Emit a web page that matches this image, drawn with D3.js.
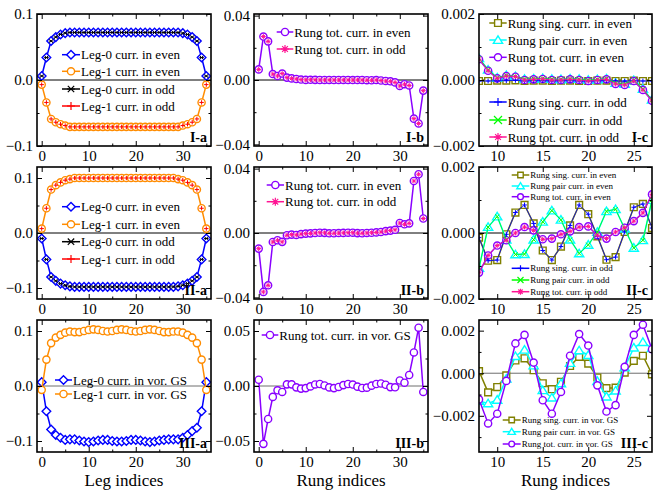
<!DOCTYPE html>
<html><head><meta charset="utf-8">
<script src="https://cdn.jsdelivr.net/npm/d3@7"></script>
<style>body{margin:0;background:#fff}</style>
</head><body><svg id="chart" width="653" height="491"></svg>
<script>
// ---------------- DATA ----------------
const legIndices  = [0,1,2,3,4,5,6,7,8,9,10,11,12,13,14,15,16,17,18,19,20,21,22,23,24,25,26,27,28,29,30,31,32,33,34,35];
const rungIndices = [0,1,2,3,4,5,6,7,8,9,10,11,12,13,14,15,16,17,18,19,20,21,22,23,24,25,26,27,28,29,30,31,32,33,34,35];
const zoomRungs   = [8,9,10,11,12,13,14,15,16,17,18,19,20,21,22,23,24,25,26,27];

// I : even / odd states
const leg0EvenI = [0.006,0.034,0.059,0.065,0.069,0.071,0.072,0.072,0.072,0.072,0.072,0.072,0.072,0.072,0.072,0.072,0.072,0.072,0.072,0.072,0.072,0.072,0.072,0.072,0.072,0.072,0.072,0.072,0.072,0.072,0.071,0.069,0.065,0.059,0.034,0.006];
const leg1EvenI = [-0.007,-0.034,-0.059,-0.064,-0.067,-0.069,-0.071,-0.071,-0.071,-0.071,-0.071,-0.071,-0.071,-0.071,-0.071,-0.071,-0.071,-0.071,-0.071,-0.071,-0.071,-0.071,-0.071,-0.071,-0.071,-0.071,-0.071,-0.071,-0.071,-0.071,-0.069,-0.067,-0.064,-0.059,-0.034,-0.007];
const leg0OddI = [0.006,0.034,0.059,0.065,0.069,0.071,0.072,0.072,0.072,0.072,0.072,0.072,0.072,0.072,0.072,0.072,0.072,0.072,0.072,0.072,0.072,0.072,0.072,0.072,0.072,0.072,0.072,0.072,0.072,0.072,0.071,0.069,0.065,0.059,0.034,0.006];
const leg1OddI = [-0.007,-0.034,-0.059,-0.064,-0.067,-0.069,-0.071,-0.071,-0.071,-0.071,-0.071,-0.071,-0.071,-0.071,-0.071,-0.071,-0.071,-0.071,-0.071,-0.071,-0.071,-0.071,-0.071,-0.071,-0.071,-0.071,-0.071,-0.071,-0.071,-0.071,-0.069,-0.067,-0.064,-0.059,-0.034,-0.007];
const rungTotEvenI = [0.0066,0.0270,0.0240,0.0037,0.0025,0.0040,0.0015,0.0010,0.00063,0.00028,0.00005,0.00012,0.0001,0.0,0.00002,0.00003,0.0,0.0,0.00002,0.0,-0.00003,0.0,0.00002,-0.00012,-0.00015,-0.00003,-0.0003,-0.00063,-0.0008,-0.0015,-0.0037,-0.0026,-0.0034,-0.0240,-0.0270,-0.0066];
const rungTotOddI  = [0.0066,0.0270,0.0240,0.0037,0.0025,0.0040,0.0015,0.0010,0.00063,0.00028,0.00005,0.00012,0.0001,0.0,0.00002,0.00003,0.0,0.0,0.00002,0.0,-0.00003,0.0,0.00002,-0.00012,-0.00015,-0.00003,-0.0003,-0.00063,-0.0008,-0.0015,-0.0037,-0.0026,-0.0034,-0.0240,-0.0270,-0.0066];
const rungSingEvenI = [-0.00003,-0.00003,-0.00002,-0.00002,-0.00001,-0.00003,-0.00002,-0.00002,-0.00003,-0.00002,-0.00002,-0.00003,-0.00003,-0.00002,-0.00002,-0.00003,-0.00003,-0.00002,-0.00003,-0.00003];
const rungPairEvenI = [0.00066,0.00031,0.00007,0.00014,0.00011,0.00003,0.00004,0.00005,0.00003,0.00002,0.00004,0.00003,0.0,0.00002,0.00004,-0.00009,-0.00012,-0.00001,-0.00027,-0.0006];
const rungSingOddI  = [-0.00003,-0.00003,-0.00002,-0.00002,-0.00001,-0.00003,-0.00002,-0.00002,-0.00003,-0.00002,-0.00002,-0.00003,-0.00003,-0.00002,-0.00002,-0.00003,-0.00003,-0.00002,-0.00003,-0.00003];
const rungPairOddI  = [0.00066,0.00031,0.00007,0.00014,0.00011,0.00003,0.00004,0.00005,0.00003,0.00002,0.00004,0.00003,0.0,0.00002,0.00004,-0.00009,-0.00012,-0.00001,-0.00027,-0.0006];

// II : even / odd states
const leg0EvenII = [-0.010,-0.048,-0.080,-0.087,-0.092,-0.095,-0.097,-0.098,-0.098,-0.098,-0.098,-0.098,-0.098,-0.098,-0.098,-0.098,-0.098,-0.098,-0.098,-0.098,-0.098,-0.098,-0.098,-0.098,-0.098,-0.098,-0.098,-0.098,-0.098,-0.097,-0.095,-0.092,-0.087,-0.080,-0.048,-0.010];
const leg1EvenII = [0.008,0.045,0.079,0.087,0.092,0.096,0.098,0.100,0.100,0.100,0.100,0.100,0.100,0.100,0.100,0.100,0.100,0.100,0.100,0.100,0.100,0.100,0.100,0.100,0.100,0.100,0.100,0.100,0.100,0.098,0.096,0.092,0.087,0.079,0.045,0.008];
const leg0OddII = [-0.010,-0.048,-0.080,-0.087,-0.092,-0.095,-0.097,-0.098,-0.098,-0.098,-0.098,-0.098,-0.098,-0.098,-0.098,-0.098,-0.098,-0.098,-0.098,-0.098,-0.098,-0.098,-0.098,-0.098,-0.098,-0.098,-0.098,-0.098,-0.098,-0.097,-0.095,-0.092,-0.087,-0.080,-0.048,-0.010];
const leg1OddII = [0.008,0.045,0.079,0.087,0.092,0.096,0.098,0.100,0.100,0.100,0.100,0.100,0.100,0.100,0.100,0.100,0.100,0.100,0.100,0.100,0.100,0.100,0.100,0.100,0.100,0.100,0.100,0.100,0.100,0.098,0.096,0.092,0.087,0.079,0.045,0.008];
const rungTotEvenII = [-0.0097,-0.0366,-0.0325,-0.0056,-0.0045,-0.0055,-0.0014,-0.0010,-0.0012,-0.00068,-0.00038,-0.00022,0.0,0.00018,0.00008,-0.00019,-0.00017,-0.00004,0.00005,0.00018,0.0002,-0.00007,-0.00017,0.00003,0.00016,0.00036,0.00061,0.00117,0.0015,0.0020,0.0062,0.0054,0.0060,0.0323,0.0365,0.0090];
const rungTotOddII  = [-0.0097,-0.0366,-0.0325,-0.0056,-0.0045,-0.0055,-0.0014,-0.0010,-0.0012,-0.00068,-0.00038,-0.00022,0.0,0.00018,0.00008,-0.00019,-0.00017,-0.00004,0.00005,0.00018,0.0002,-0.00007,-0.00017,0.00003,0.00016,0.00036,0.00061,0.00117,0.0015,0.0020,0.0062,0.0054,0.0060,0.0323,0.0365,0.0090];
const rungSingEvenII = [-0.00014,-0.00084,-0.00082,-0.00004,0.00062,0.00085,0.00029,-0.00053,-0.00082,-0.00041,0.00023,0.00085,0.00057,-0.0001,-0.00081,-0.00073,0.00003,0.00078,0.00088,0.00015];
const rungPairEvenII = [-0.00106,0.00018,0.0005,-0.0002,-0.00065,-0.00064,-0.0002,0.00034,0.00068,0.0004,-0.0002,-0.00062,-0.00036,0.00003,0.00066,0.00072,0.00013,-0.00045,-0.00022,0.001];
const rungSingOddII  = [-0.00014,-0.00084,-0.00082,-0.00004,0.00062,0.00085,0.00029,-0.00053,-0.00082,-0.00041,0.00023,0.00085,0.00057,-0.0001,-0.00081,-0.00073,0.00003,0.00078,0.00088,0.00015];
const rungPairOddII  = [-0.00106,0.00018,0.0005,-0.0002,-0.00065,-0.00064,-0.0002,0.00034,0.00068,0.0004,-0.0002,-0.00062,-0.00036,0.00003,0.00066,0.00072,0.00013,-0.00045,-0.00022,0.001];

// III : vortex ground state
const leg0VorIII = [0.007,-0.046,-0.079,-0.089,-0.094,-0.098,-0.097,-0.097,-0.099,-0.101,-0.102,-0.101,-0.099,-0.098,-0.098,-0.100,-0.101,-0.101,-0.100,-0.098,-0.098,-0.099,-0.101,-0.102,-0.101,-0.099,-0.098,-0.097,-0.097,-0.097,-0.094,-0.089,-0.082,-0.076,-0.046,0.007];
const leg1VorIII = [-0.007,0.048,0.078,0.088,0.093,0.097,0.099,0.098,0.098,0.100,0.102,0.103,0.102,0.100,0.099,0.100,0.102,0.103,0.102,0.100,0.099,0.100,0.102,0.103,0.102,0.100,0.098,0.098,0.099,0.099,0.097,0.093,0.088,0.078,0.048,-0.007];
const rungTotVorIII = [0.0057,-0.0526,-0.0300,-0.0099,-0.0039,-0.0054,0.0015,0.0015,-0.00123,-0.00236,-0.0019,-0.00036,0.0014,0.0018,0.0005,-0.00127,-0.0019,-0.00088,0.00082,0.00184,0.0013,-0.00057,-0.0018,-0.0015,0.0003,0.0018,0.00228,0.00113,-0.0010,-0.0012,0.0050,0.0030,0.0100,0.0305,0.0530,-0.0054];
const rungSingVorIII = [0.0001,-0.0009,-0.00065,-0.0001,0.0006,0.0007,0.00014,-0.00047,-0.00075,-0.0004,0.00034,0.00077,0.00045,-0.0002,-0.0007,-0.00068,0.00003,0.00058,0.00082,-0.00005];
const rungPairVorIII = [-0.0013,-0.00142,-0.00125,-0.00026,0.0008,0.0011,0.00036,-0.0008,-0.00115,-0.00048,0.00048,0.00107,0.00085,-0.00037,-0.0011,-0.00082,0.00027,0.0012,0.00146,0.00118];

// tick values
const legTicks = [0,10,20,30], legMinor = [5,15,25,35];
const zoomTicks = [10,15,20,25];
const panelLabels = [["I-a","I-b","I-c"],["II-a","II-b","II-c"],["III-a","III-b","III-c"]];

// ---------------- STYLE ----------------
const FF = '"Liberation Serif","Times New Roman",serif';
const ST = {
  leg0Even:{color:"#0000ff",marker:"diamond",size:4.3},
  leg1Even:{color:"#ff8c00",marker:"circle",size:3.6},
  leg0Odd:{color:"#000000",marker:"star",size:2.2,odd:true},
  leg1Odd:{color:"#ff0000",marker:"plus",size:2.2,odd:true},
  totEven:{color:"#8a00ff",marker:"circle",size:3.6},
  totOdd:{color:"#ff1493",marker:"asterisk",size:2.4,odd:true},
  singEven:{color:"#808000",marker:"square",size:3.4},
  pairEven:{color:"#00ffff",marker:"triangle",size:4.2},
  singOdd:{color:"#0000ff",marker:"plus",size:2.4,odd:true},
  pairOdd:{color:"#00ff00",marker:"cross",size:2.2,odd:true}
};

function markerPath(t,s){
  switch(t){
    case "circle": return `M${-s},0A${s},${s} 0 1,0 ${s},0A${s},${s} 0 1,0 ${-s},0Z`;
    case "diamond": return `M0,${-s}L${s},0L0,${s}L${-s},0Z`;
    case "square": return `M${-s},${-s}H${s}V${s}H${-s}Z`;
    case "triangle": return `M0,${-s}L${s*1.1},${s*0.8}L${-s*1.1},${s*0.8}Z`;
    case "plus": return `M${-s},0H${s}M0,${-s}V${s}`;
    case "cross": return `M${-s},${-s}L${s},${s}M${-s},${s}L${s},${-s}`;
    case "star": {const c=s*0.8; return `M${-c},${-c}L${c},${c}M${-c},${c}L${c},${-c}M${-s},0H${s}`;}
    case "asterisk": {const c=s*0.72; return `M${-s},0H${s}M0,${-s}V${s}M${-c},${-c}L${c},${c}M${-c},${c}L${c},${-c}`;}
  }
}
const OPEN = new Set(["circle","diamond","square","triangle"]);

const svg = d3.select("#chart");
svg.append("rect").attr("width",653).attr("height",491).attr("fill","#fff");
const colX = [[37,211],[254,428],[479,652]];
const rowY = [[14,146],[167,299],[320,452]];

function sl(a){ return a.slice(8,28); }

const panels = [
 // row I
 {r:0,c:0,xDom:[-1,36],yDom:[-0.1,0.1],yT:[-0.1,0,0.1],yM:[-0.05,0.05],yF:".1f",
  series:[{x:legIndices,y:leg0EvenI,s:ST.leg0Even},{x:legIndices,y:leg1EvenI,s:ST.leg1Even},
          {x:legIndices,y:leg0OddI,s:ST.leg0Odd},{x:legIndices,y:leg1OddI,s:ST.leg1Odd}],
  legend:{x:62,len:18,ys:[54.7,71.3,89,106],fs:13,small:false,labels:["Leg-0 curr. in even","Leg-1 curr. in even","Leg-0 curr. in odd","Leg-1 curr. in odd"]}},
 {r:0,c:1,xDom:[-1,36],yDom:[-0.041,0.041],yT:[-0.04,0,0.04],yM:[-0.02,0.02],yF:".2f",
  series:[{x:rungIndices,y:rungTotEvenI,s:ST.totEven},{x:rungIndices,y:rungTotOddI,s:ST.totOdd}],
  legend:{x:276.7,len:16.6,ys:[32,49],fs:13,small:false,labels:["Rung tot. curr. in even","Rung tot. curr. in odd"]}},
 {r:0,c:2,xDom:[8,27],yDom:[-0.002,0.002],yT:[-0.002,0,0.002],yM:[-0.001,0.001],yF:".3f",zoom:true,
  series:[{x:zoomRungs,y:rungSingEvenI,s:ST.singEven},{x:zoomRungs,y:rungPairEvenI,s:ST.pairEven},{x:zoomRungs,y:sl(rungTotEvenI),s:ST.totEven},
          {x:zoomRungs,y:rungSingOddI,s:ST.singOdd},{x:zoomRungs,y:rungPairOddI,s:ST.pairOdd},{x:zoomRungs,y:sl(rungTotOddI),s:ST.totOdd}],
  legend:{x:489.3,len:17.4,ys:[23,40,57.3,102,120,137],fs:13,small:false,labels:["Rung sing. curr. in even","Rung pair curr. in even","Rung tot. curr. in even","Rung sing. curr. in odd","Rung pair curr. in odd","Rung tot. curr. in odd"]}},
 // row II
 {r:1,c:0,xDom:[-1,36],yDom:[-0.12,0.12],yT:[-0.1,0,0.1],yM:[-0.05,0.05],yF:".1f",
  series:[{x:legIndices,y:leg0EvenII,s:ST.leg0Even},{x:legIndices,y:leg1EvenII,s:ST.leg1Even},
          {x:legIndices,y:leg0OddII,s:ST.leg0Odd},{x:legIndices,y:leg1OddII,s:ST.leg1Odd}],
  legend:{x:62,len:18,ys:[206.7,224.3,241.7,259],fs:13,small:false,labels:["Leg-0 curr. in even","Leg-1 curr. in even","Leg-0 curr. in odd","Leg-1 curr. in odd"]}},
 {r:1,c:1,xDom:[-1,36],yDom:[-0.041,0.041],yT:[-0.04,0,0.04],yM:[-0.02,0.02],yF:".2f",
  series:[{x:rungIndices,y:rungTotEvenII,s:ST.totEven},{x:rungIndices,y:rungTotOddII,s:ST.totOdd}],
  legend:{x:266.7,len:17.3,ys:[185,201.7],fs:13,small:false,labels:["Rung tot. curr. in even","Rung tot. curr. in odd"]}},
 {r:1,c:2,xDom:[8,27],yDom:[-0.002,0.002],yT:[-0.002,0,0.002],yM:[-0.001,0.001],yF:".3f",zoom:true,
  series:[{x:zoomRungs,y:rungSingEvenII,s:ST.singEven},{x:zoomRungs,y:rungPairEvenII,s:ST.pairEven},{x:zoomRungs,y:sl(rungTotEvenII),s:ST.totEven},
          {x:zoomRungs,y:rungSingOddII,s:ST.singOdd},{x:zoomRungs,y:rungPairOddII,s:ST.pairOdd},{x:zoomRungs,y:sl(rungTotOddII),s:ST.totOdd}],
  legend:{x:511.7,len:17.6,ys:[175,186,196.7,268.3,280,291.7],fs:9,small:true,labels:["Rung sing. curr. in even","Rung pair curr. in even","Rung tot. curr. in even","Rung sing. curr. in odd","Rung pair curr. in odd","Rung tot. curr. in odd"]}},
 // row III
 {r:2,c:0,xDom:[-1,36],yDom:[-0.12,0.12],yT:[-0.1,0,0.1],yM:[-0.05,0.05],yF:".1f",gray:true,
  series:[{x:legIndices,y:leg0VorIII,s:ST.leg0Even},{x:legIndices,y:leg1VorIII,s:ST.leg1Even}],
  legend:{x:55,len:17,ys:[380,394],fs:13,small:false,labels:["Leg-0 curr. in vor. GS","Leg-1 curr. in vor. GS"]}},
 {r:2,c:1,xDom:[-1,36],yDom:[-0.06,0.06],yT:[-0.05,0,0.05],yM:[-0.025,0.025],yF:".2f",gray:true,
  series:[{x:rungIndices,y:rungTotVorIII,s:ST.totEven}],
  legend:{x:261.7,len:16.6,ys:[335],fs:13,small:false,labels:["Rung tot. curr. in vor. GS"]}},
 {r:2,c:2,xDom:[8,27],yDom:[-0.0037,0.0025],yT:[-0.002,0,0.002],yM:[-0.003,-0.001,0.001],yF:".3f",zoom:true,gray:true,
  series:[{x:zoomRungs,y:rungSingVorIII,s:ST.singEven},{x:zoomRungs,y:rungPairVorIII,s:ST.pairEven},{x:zoomRungs,y:sl(rungTotVorIII),s:ST.totEven}],
  legend:{x:502.7,len:18,ys:[420,431.7,444],fs:9,small:true,labels:["Rung sing. curr. in vor. GS","Rung pair curr. in vor. GS","Rung tot. curr. in vor. GS"]}}
];

panels.forEach((p,pi)=>{
  const [x0,x1] = colX[p.c], [y0,y1] = rowY[p.r];
  const x = d3.scaleLinear().domain(p.xDom).range([x0,x1]);
  const y = d3.scaleLinear().domain(p.yDom).range([y1,y0]);
  const g = svg.append("g");
  const cid = "clip"+pi;
  g.append("clipPath").attr("id",cid).append("rect").attr("x",x0).attr("y",y0).attr("width",x1-x0).attr("height",y1-y0);
  const pg = g.append("g").attr("clip-path",`url(#${cid})`);
  pg.append("line").attr("x1",x0).attr("x2",x1).attr("y1",y(0)).attr("y2",y(0))
    .attr("stroke",p.gray?"#6e6e6e":"#000").attr("stroke-width",1);
  const line = d3.line().x(d=>x(d[0])).y(d=>y(d[1]));
  const even = p.series.filter(s=>!s.s.odd), odd = p.series.filter(s=>s.s.odd);
  even.forEach(s=>{
    const pts = s.x.map((v,i)=>[v,s.y[i]]);
    pg.append("path").attr("d",line(pts)).attr("fill","none").attr("stroke",s.s.color).attr("stroke-width",1.5);
    pg.selectAll(null).data(pts).join("path")
      .attr("transform",d=>`translate(${x(d[0])},${y(d[1])})`)
      .attr("d",markerPath(s.s.marker,s.s.size))
      .attr("fill","#fff").attr("stroke",s.s.color).attr("stroke-width",1.4);
  });
  odd.forEach(s=>{
    const pts = s.x.map((v,i)=>[v,s.y[i]]);
    if(p.zoom) pg.append("path").attr("d",line(pts)).attr("fill","none").attr("stroke",s.s.color).attr("stroke-width",0.8);
    pg.selectAll(null).data(pts).join("path")
      .attr("transform",d=>`translate(${x(d[0])},${y(d[1])})`)
      .attr("d",markerPath(s.s.marker,s.s.size))
      .attr("fill","none").attr("stroke",s.s.color).attr("stroke-width",1);
  });
  const xT = p.zoom?zoomTicks:legTicks, xM = p.zoom?[]:legMinor;
  const styleAxis = sel=>{ sel.select(".domain").remove(); sel.attr("font-family",FF).attr("font-size",15);
    sel.selectAll("line").attr("stroke","#000").attr("stroke-width",1); sel.selectAll("text").attr("fill","#000"); };
  g.append("g").attr("transform",`translate(0,${y1})`).call(d3.axisBottom(x).tickValues(xT).tickSize(-5).tickPadding(4).tickFormat(d3.format("d"))).call(styleAxis);
  g.append("g").attr("transform",`translate(0,${y1})`).call(d3.axisBottom(x).tickValues(xM).tickSize(-2.5).tickFormat("")).call(styleAxis);
  g.append("g").attr("transform",`translate(0,${y0})`).call(d3.axisTop(x).tickValues(xT).tickSize(-5).tickFormat("")).call(styleAxis);
  g.append("g").attr("transform",`translate(0,${y0})`).call(d3.axisTop(x).tickValues(xM).tickSize(-2.5).tickFormat("")).call(styleAxis);
  g.append("g").attr("transform",`translate(${x0},0)`).call(d3.axisLeft(y).tickValues(p.yT).tickSize(-5).tickPadding(4).tickFormat(d3.format(p.yF))).call(styleAxis);
  g.append("g").attr("transform",`translate(${x0},0)`).call(d3.axisLeft(y).tickValues(p.yM).tickSize(-2.5).tickFormat("")).call(styleAxis);
  g.append("g").attr("transform",`translate(${x1},0)`).call(d3.axisRight(y).tickValues(p.yT).tickSize(-5).tickFormat("")).call(styleAxis);
  g.append("g").attr("transform",`translate(${x1},0)`).call(d3.axisRight(y).tickValues(p.yM).tickSize(-2.5).tickFormat("")).call(styleAxis);
  g.append("rect").attr("x",x0).attr("y",y0).attr("width",x1-x0).attr("height",y1-y0)
    .attr("fill","none").attr("stroke","#000").attr("stroke-width",1.6);
  g.append("text").attr("x",x1-4).attr("y",y1-4).attr("text-anchor","end")
    .attr("font-family",FF).attr("font-size",14).attr("font-weight","bold").text(panelLabels[p.r][p.c]);
  const L = p.legend;
  p.series.forEach((s,i)=>{
    const yy = L.ys[i];
    g.append("line").attr("x1",L.x).attr("x2",L.x+L.len).attr("y1",yy).attr("y2",yy)
      .attr("stroke",s.s.color).attr("stroke-width",1.5);
    let sz = s.s.odd ? 4 : s.s.size;
    if(L.small) sz = s.s.odd ? 3 : s.s.size*0.8;
    g.append("path").attr("transform",`translate(${L.x+L.len/2},${yy})`)
      .attr("d",markerPath(s.s.marker,sz))
      .attr("fill",OPEN.has(s.s.marker)?"#fff":"none").attr("stroke",s.s.color).attr("stroke-width",s.s.odd?1.2:1.4);
    g.append("text").attr("x",L.x+L.len+1).attr("y",yy).attr("dy","0.35em")
      .attr("font-family",FF).attr("font-size",L.fs).attr("fill","#000").text(L.labels[i]);
  });
});

[["Leg indices",124],["Rung indices",341],["Rung indices",565.5]].forEach(t=>{
  svg.append("text").attr("x",t[1]).attr("y",486).attr("text-anchor","middle")
    .attr("font-family",FF).attr("font-size",17).attr("fill","#000").text(t[0]);
});
</script>
</body></html>
